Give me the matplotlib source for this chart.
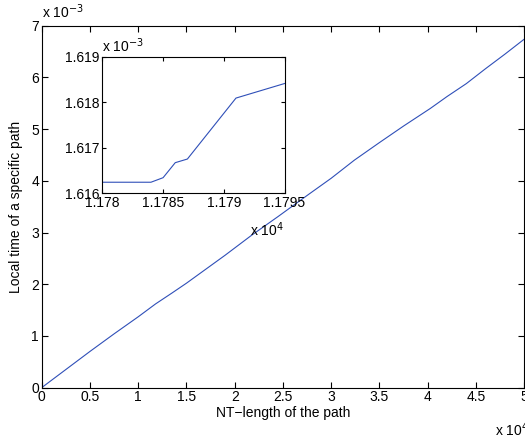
import matplotlib.pyplot as plt
import numpy as np
from matplotlib.ticker import FuncFormatter

plt.rcParams['font.family'] = ['Liberation Sans', 'DejaVu Sans']
plt.rcParams['font.size'] = 10

# NT-length vs local time, whole path
nt_len = [0, 2500, 5000, 7500, 10000, 11790, 13500, 15000, 17000, 19000,
          21770, 24500, 27600, 30000, 32400, 35000, 37500, 40270, 42000,
          44000, 46000, 48000, 50000]
local_time = [0, 0.35e-3, 0.70e-3, 1.04e-3, 1.37e-3, 1.618e-3, 1.83e-3,
              2.02e-3, 2.29e-3, 2.56e-3, 2.95e-3, 3.31e-3, 3.73e-3,
              4.05e-3, 4.40e-3, 4.74e-3, 5.06e-3, 5.40e-3, 5.63e-3,
              5.88e-3, 6.17e-3, 6.45e-3, 6.74e-3]

# zoomed window around NT = 11780..11795
nt_zoom = [11780, 11784, 11785, 11786, 11787, 11791, 11795]
lt_zoom = [1.61624e-3, 1.61624e-3, 1.61634e-3, 1.61667e-3, 1.61675e-3,
           1.61809e-3, 1.61841e-3]

line_col = '#2f4fb8'

fig = plt.figure(figsize=(5.25, 4.36), dpi=100)
ax = fig.add_axes([0.0795, 0.111, 0.919, 0.830])
ax.plot(nt_len, local_time, color=line_col, lw=0.8)
ax.set_xlim(0, 50000)
ax.set_ylim(0, 7e-3)
ax.set_xticks(np.arange(0, 50001, 5000))
ax.set_yticks(np.arange(0, 7.01e-3, 1e-3))
ax.xaxis.set_major_formatter(FuncFormatter(lambda v, p: '%g' % round(v / 1e4, 4)))
ax.yaxis.set_major_formatter(FuncFormatter(lambda v, p: '%g' % round(v / 1e-3, 4)))
ax.tick_params(direction='in', top=True, right=True, length=4, pad=2)
ax.set_xlabel('NT\u2212length of the path', labelpad=1)
ax.set_ylabel('Local time of a specific path', labelpad=6)
ax.text(0.0, 1.012, 'x 10$^{-3}$', transform=ax.transAxes, ha='left', va='bottom')
ax.text(0.94, -0.09, 'x 10$^{4}$', transform=ax.transAxes, ha='left', va='top')

ins = fig.add_axes([0.195, 0.557, 0.347, 0.313])
ins.plot(nt_zoom, lt_zoom, color=line_col, lw=0.8)
ins.set_xlim(11780, 11795)
ins.set_ylim(1.616e-3, 1.619e-3)
ins.set_xticks([11780, 11785, 11790, 11795])
ins.set_yticks([1.616e-3, 1.617e-3, 1.618e-3, 1.619e-3])
ins.xaxis.set_major_formatter(FuncFormatter(lambda v, p: '%g' % round(v / 1e4, 5)))
ins.yaxis.set_major_formatter(FuncFormatter(lambda v, p: '%.3f' % (v / 1e-3)))
ins.tick_params(direction='in', top=True, right=True, length=3, pad=2)
ins.text(0.0, 1.015, 'x 10$^{-3}$', transform=ins.transAxes, ha='left', va='bottom')
ins.text(0.81, -0.2, 'x 10$^{4}$', transform=ins.transAxes, ha='left', va='top')

fig.savefig('out.png', dpi=100)
